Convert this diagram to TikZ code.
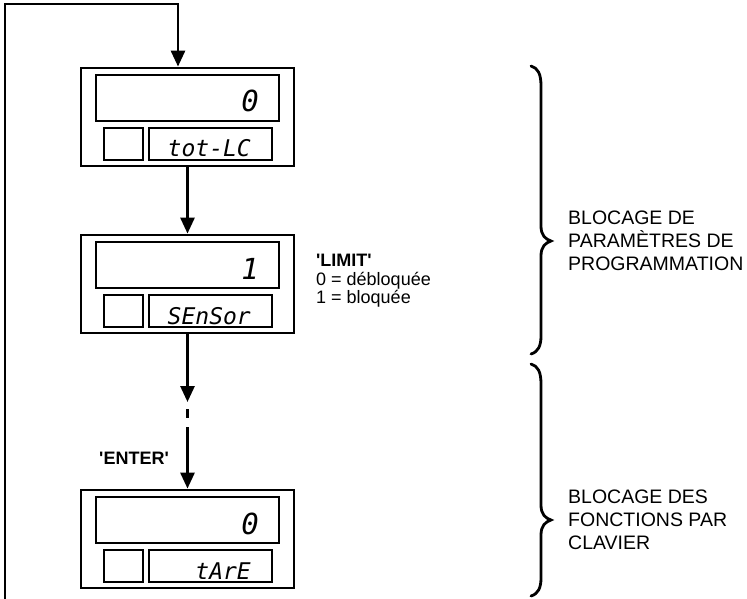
\documentclass[tikz,border=0pt]{standalone}
\usepackage{fontspec}
\setmainfont{Liberation Sans}
\newfontfamily\segfont{DejaVu Sans Mono}
\usetikzlibrary{arrows.meta,calc}
\tikzset{
  box/.style={draw, line width=2.8pt, rectangle, inner sep=0pt},
  outerbox/.style={box, minimum width=213pt, minimum height=98pt},
  dispbox/.style={box, minimum width=183pt, minimum height=46pt},
  sqbox/.style={box, minimum width=39pt, minimum height=32pt},
  labbox/.style={box, minimum width=123pt, minimum height=32pt},
  bigval/.style={inner sep=0pt, anchor=base east, font=\segfont\itshape\fontsize{29}{29}\selectfont},
  labval/.style={inner sep=0pt, anchor=base east, font=\segfont\itshape\fontsize{23}{23}\selectfont},
  conn/.style={line width=2.8pt},
  arr/.style={conn, -{Triangle[width=14pt,length=16pt]}},
  txt/.style={inner sep=0pt, font=\fontsize{19.5}{23}\selectfont, align=left},
  ltxt/.style={inner sep=0pt, font=\fontsize{18}{18.5}\selectfont, align=left},
  brc/.style={line width=2.8pt, line cap=round}
}
\newcommand{\q}{\textquotesingle}
\newcommand{\dispunit}[4]{%
  \node[outerbox] (#1) at (187.5,{#2+49}) {};
  \node[dispbox] (#1disp) at (187.5,{#2+30}) {};
  \node[sqbox] (#1sq) at (123.5,{#2+76}) {};
  \node[labbox] (#1lab) at (210.5,{#2+76}) {};
  \node[bigval] (#1val) at (259,{#2+44}) {#3};
  \node[labval] (#1txt) at (251,{#2+89}) {#4};
}
\begin{document}
\begin{tikzpicture}[x=1pt,y=-1pt]
\useasboundingbox (0,0) rectangle (747,599);
\dispunit{ua}{68}{0}{tot-LC}
\dispunit{ub}{235}{1}{SEnSor}
\dispunit{uc}{490}{0}{tArE}
% loop
\coordinate (lp0) at (5,600);
\coordinate (lp1) at (5,4);
\coordinate (lp2) at (178,4);
\draw[arr] (lp0) -- (lp1) -- (lp2) -- (lp2 |- ua.north);
% connectors
\draw[arr] (ua.south) -- (ub.north);
\coordinate (m1) at (187.5,402);
\coordinate (d1) at (187.5,409);
\coordinate (d2) at (187.5,418);
\coordinate (m2) at (187.5,427);
\draw[arr] (ub.south) -- (m1);
\draw[conn] (d1) -- (d2);
\draw[arr] (m2) -- (uc.north);
% texts
\node[ltxt, anchor=north west] (limit) at (316,254) {\textbf{\q LIMIT\q}\\0 = débloquée\\1 = bloquée};
\node[ltxt, anchor=east] (enter) at (169,458) {\textbf{\q ENTER\q}};
\node[txt, anchor=west] (prog) at (568,241) {BLOCAGE DE\\PARAMÈTRES DE\\PROGRAMMATION};
\node[txt, anchor=west] (clav) at (568,520) {BLOCAGE DES\\FONCTIONS PAR\\CLAVIER};
% braces
\draw[brc] (531,66) .. controls (538,68) and (541,74) .. (541,86) -- (541,226)
  .. controls (541,235) and (545,239) .. (551,241)
  .. controls (545,243) and (541,247) .. (541,256) -- (541,336)
  .. controls (541,346) and (538,352) .. (531,354);
\draw[brc] (531,364) .. controls (538,366) and (541,372) .. (541,384) -- (541,505)
  .. controls (541,514) and (545,518) .. (551,520)
  .. controls (545,522) and (541,526) .. (541,535) -- (541,578)
  .. controls (541,588) and (538,594) .. (531,596);
\end{tikzpicture}
\end{document}
